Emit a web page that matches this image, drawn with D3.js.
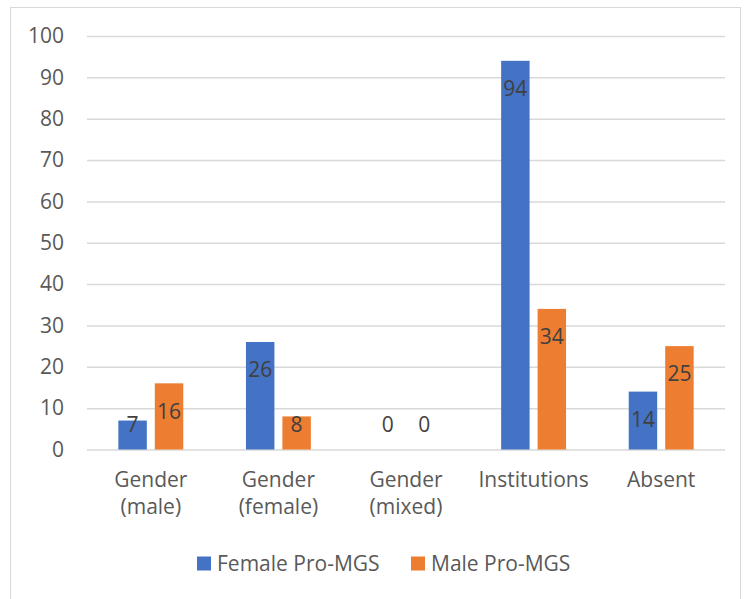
<!DOCTYPE html>
<html>
<head>
<meta charset="utf-8">
<script src="https://cdn.jsdelivr.net/npm/d3@7"></script>
<style>
  html, body { margin: 0; padding: 0; background: #fff; }
  svg { display: block; }
  text { font-family: "Open Sans", sans-serif; }
</style>
</head>
<body>
<svg id="chart" width="744" height="599"></svg>
<script>
// Category labels (each entry is a list of lines)
const categories = ["Gender (male)", "Gender (female)", "Gender (mixed)", "Institutions", "Absent"];
const categoryLines = [["Gender", "(male)"], ["Gender", "(female)"], ["Gender", "(mixed)"], ["Institutions"], ["Absent"]];
const seriesNames = ["Female Pro-MGS", "Male Pro-MGS"];
const femaleValues = [7, 26, 0, 94, 14];
const maleValues = [16, 8, 0, 34, 25];
const yTicks = [0, 10, 20, 30, 40, 50, 60, 70, 80, 90, 100];
const colors = ["#4472C4", "#ED7D31"];

const series = [femaleValues, maleValues];

const svg = d3.select("#chart");
const plot = { left: 87, right: 725, top: 36, bottom: 449.5 };
const fontSize = 21;

// outer chart frame
svg.append("rect")
  .attr("x", 10.5).attr("y", 7.5)
  .attr("width", 730).attr("height", 600)
  .attr("fill", "#fff").attr("stroke", "#d9d9d9").attr("stroke-width", 1);

const x = d3.scaleBand().domain(categories).range([plot.left, plot.right]).paddingInner(0).paddingOuter(0);
const y = d3.scaleLinear().domain([0, 100]).range([plot.bottom, plot.top]);

// gridlines and value axis labels
const yAxis = d3.axisLeft(y).tickValues(yTicks).tickSize(-(plot.right - plot.left)).tickPadding(23);
const gy = svg.append("g").attr("transform", `translate(${plot.left},0)`).call(yAxis);
gy.select(".domain").remove();
gy.selectAll(".tick line").attr("stroke", "#d9d9d9").attr("stroke-width", 1.5);
gy.selectAll(".tick text")
  .attr("fill", "#595959").attr("font-size", fontSize)
  .attr("font-family", "'Open Sans', sans-serif");

// bars
const barW = x.bandwidth() * 0.223;
const barGap = 8;
const offsets = [-(barW + barGap) / 2, (barW + barGap) / 2];

const groups = svg.append("g");
series.forEach((vals, si) => {
  const g = groups.append("g");
  g.selectAll("rect").data(vals).join("rect")
    .attr("x", (d, i) => x(categories[i]) + x.bandwidth() / 2 + offsets[si] - barW / 2)
    .attr("y", d => y(d))
    .attr("width", barW)
    .attr("height", d => y(0) - y(d))
    .attr("fill", colors[si]);
  // value labels, inside end
  g.selectAll("text").data(vals).join("text")
    .attr("x", (d, i) => x(categories[i]) + x.bandwidth() / 2 + offsets[si])
    .attr("y", d => Math.min(y(d) + 28, y(0) - 25))
    .attr("dy", "0.35em")
    .attr("text-anchor", "middle")
    .attr("fill", "#404040").attr("font-size", fontSize)
    .text(d => d);
});

// category axis labels
const gx = svg.append("g");
categories.forEach((c, i) => {
  const cx = x(c) + x.bandwidth() / 2;
  const t = gx.append("text")
    .attr("x", cx)
    .attr("y", 487)
    .attr("text-anchor", "middle")
    .attr("fill", "#595959").attr("font-size", fontSize);
  categoryLines[i].forEach((line, li) => {
    t.append("tspan").attr("x", cx).attr("dy", li === 0 ? 0 : 27).text(line);
  });
});

// legend
const legend = svg.append("g");
const legendX = [197, 411];
seriesNames.forEach((name, i) => {
  legend.append("rect")
    .attr("x", legendX[i]).attr("y", 556.5).attr("width", 14).attr("height", 14)
    .attr("fill", colors[i]);
  legend.append("text")
    .attr("x", legendX[i] + 20).attr("y", 563.5).attr("dy", "0.35em")
    .attr("fill", "#595959").attr("font-size", fontSize)
    .text(name);
});
</script>
</body>
</html>
